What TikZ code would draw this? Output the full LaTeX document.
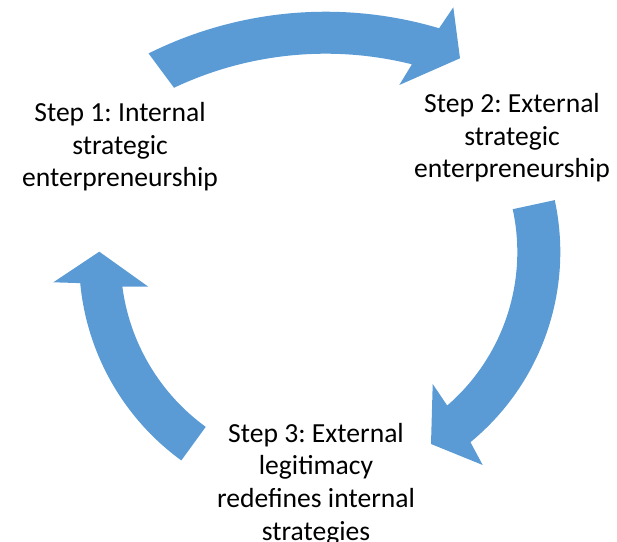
\documentclass[tikz,border=0pt]{standalone}
\usepackage{fontspec}
\setmainfont{Carlito}
\usetikzlibrary{calc}
\definecolor{cycleblue}{RGB}{91,155,213}
\frenchspacing
\begin{document}
\begin{tikzpicture}[x=1pt,y=1pt,
  blockarrow/.style={fill=cycleblue, draw=none},
  steptext/.style={align=center, font=\fontsize{27.6}{32.6}\selectfont, inner sep=0pt}]
\useasboundingbox (0,0) rectangle (617,541);

% step labels
\node[steptext] (s1) at (120,394) {Step 1: Internal\\strategic\\enterpreneurship};
\node[steptext] (s2) at (512,403) {Step 2: External\\strategic\\enterpreneurship};
\node[steptext] (s3) at (316,57) {Step 3: External\\legitimacy\\redefines internal\\strategies};

% curved block arrow from step 1 to step 2
\coordinate (ct) at (325.7,132.3);
\fill[blockarrow] ($(ct)+(116.5:397)$) arc[start angle=116.5, end angle=73.4, radius=397]
  -- (453.3,533.7) -- (460,482.7) -- (399.3,456)
  -- ($(ct)+(75.95:355)$) arc[start angle=75.95, end angle=115.3, radius=355] -- cycle;

% curved block arrow from step 2 to step 3
\coordinate (cr) at (314.3,288.9);
\fill[blockarrow] ($(cr)+(12.2:246)$) arc[start angle=12.2, end angle=-50.6, radius=246]
  -- (482.7,76) -- (431,97) -- (432.7,157)
  -- ($(cr)+(-49.1:203)$) arc[start angle=-49.1, end angle=12.2, radius=203] -- cycle;

% curved block arrow from step 3 back to step 1
\coordinate (cl) at (327.1,281.2);
\fill[blockarrow] ($(cl)+(234:248)$) arc[start angle=234, end angle=185.4, radius=248]
  -- (53.3,258.7) -- (99.3,289.3) -- (148.3,254.3)
  -- ($(cl)+(187.5:206.5)$) arc[start angle=187.5, end angle=234, radius=206.5] -- cycle;
\end{tikzpicture}
\end{document}
